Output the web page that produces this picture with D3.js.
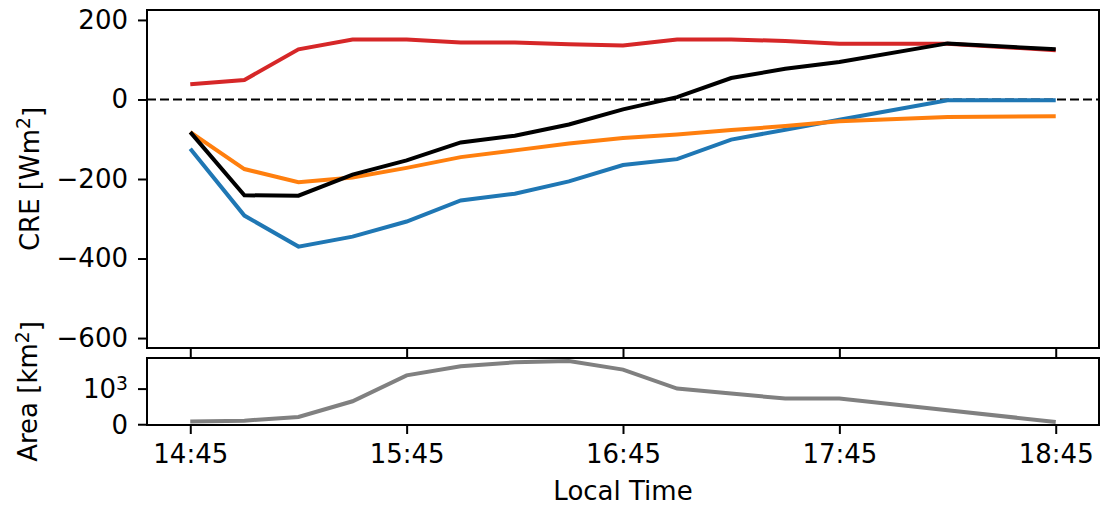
<!DOCTYPE html>
<html>
<head>
<meta charset="utf-8">
<script src="https://cdn.jsdelivr.net/npm/d3@7"></script>
<style>
  body { margin: 0; background: #fff; }
  text { font-family: "DejaVu Sans", sans-serif; fill: #000; }
</style>
</head>
<body>
<script>
// sample times (local), every 15 min with a gap between 17:45 and 18:15
let times = ["14:45", "15:00", "15:15", "15:30", "15:45", "16:00", "16:15", "16:30",
  "16:45", "17:00", "17:15", "17:30", "17:45", "18:15", "18:45"];

// CRE series [W m^2]
let creNet = [-82, -241, -242, -189, -153, -108, -91, -63, -25, 6, 54, 77, 94, 141, 126];
let creSw = [-124, -292, -370, -345, -307, -254, -237, -206, -165, -150, -101, -76, -51, -2, -2];
let creLw = [38, 49, 126, 151, 151, 143, 143, 139, 136, 151, 151, 147, 140, 140, 124];
let creOther = [-82, -175, -208, -196, -172, -145, -128, -111, -97, -88, -77, -67, -55, -44, -42];

// cloud area [km^2]
let area = [75, 100, 205, 644, 1372, 1624, 1737, 1773, 1532, 1000, 860, 720, 720, 392, 64];

let xTickLabels = ["14:45", "15:45", "16:45", "17:45", "18:45"];
let creTicks = [200, 0, -200, -400, -600];
let areaTicks = [0, 1000];

let width = 1100;
let height = 505;
let left = 147;
let right = 1099;
let topPanel = { y0: 10, y1: 348 };
let botPanel = { y0: 358, y1: 425 };

let parse = d3.timeParse("%H:%M");
let dates = times.map(parse);
let xTicks = xTickLabels.map(parse);

let xScale = d3
  .scaleTime()
  .domain([parse("14:33"), parse("18:57")])
  .range([left, right]);

let yScale = d3
  .scaleLinear()
  .domain([-625, 225])
  .range([topPanel.y1, topPanel.y0]);

let aExt = d3.extent(area);
let aPad = (aExt[1] - aExt[0]) * 0.05;
let aScale = d3
  .scaleLinear()
  .domain([aExt[0] - aPad, aExt[1] + aPad])
  .range([botPanel.y1, botPanel.y0]);

let svg = d3
  .select("body")
  .append("svg")
  .attr("width", width)
  .attr("height", height);

let fs = 26;

// top panel
let defs = svg.append("defs");
defs.append("clipPath").attr("id", "clipTop")
  .append("rect")
  .attr("x", left).attr("y", topPanel.y0)
  .attr("width", right - left).attr("height", topPanel.y1 - topPanel.y0);

svg
  .append("line")
  .attr("x1", left)
  .attr("x2", right)
  .attr("y1", yScale(0))
  .attr("y2", yScale(0))
  .attr("stroke", "#000")
  .attr("stroke-width", 2)
  .attr("stroke-dasharray", "9,4");

let line = d3
  .line()
  .x((d, i) => xScale(dates[i]))
  .y((d) => yScale(d));

let series = [
  { values: creLw, color: "#d62728" },
  { values: creSw, color: "#1f77b4" },
  { values: creOther, color: "#ff7f0e" },
  { values: creNet, color: "#000000" },
];

svg
  .append("g")
  .attr("clip-path", "url(#clipTop)")
  .selectAll("path")
  .data(series)
  .enter()
  .append("path")
  .attr("d", (d) => line(d.values))
  .attr("fill", "none")
  .attr("stroke", (d) => d.color)
  .attr("stroke-width", 4)
  .attr("stroke-linejoin", "miter")
  .attr("stroke-linecap", "butt");

// bottom panel
let areaLine = d3
  .line()
  .x((d, i) => xScale(dates[i]))
  .y((d) => aScale(d));

svg
  .append("path")
  .attr("d", areaLine(area))
  .attr("fill", "none")
  .attr("stroke", "#808080")
  .attr("stroke-width", 4);

// frames
[topPanel, botPanel].forEach((p) => {
  svg
    .append("rect")
    .attr("x", left)
    .attr("y", p.y0)
    .attr("width", right - left)
    .attr("height", p.y1 - p.y0)
    .attr("fill", "none")
    .attr("stroke", "#000")
    .attr("stroke-width", 2);
});

// axes
let styleAxis = (g) => {
  g.select(".domain").remove();
  g.selectAll(".tick line").attr("stroke", "#000").attr("stroke-width", 2);
  g.selectAll(".tick text")
    .style("font-family", "DejaVu Sans")
    .style("font-size", fs + "px")
    .attr("fill", "#000");
};

let tickFmt = d3.timeFormat("%H:%M");

svg
  .append("g")
  .attr("transform", `translate(0,${topPanel.y1})`)
  .call(d3.axisBottom(xScale).tickValues(xTicks).tickSize(9).tickFormat(""))
  .call(styleAxis);

svg
  .append("g")
  .attr("transform", `translate(0,${botPanel.y1})`)
  .call(d3.axisBottom(xScale).tickValues(xTicks).tickSize(9).tickPadding(11).tickFormat(tickFmt))
  .call(styleAxis);

svg
  .append("g")
  .attr("transform", `translate(${left},0)`)
  .call(
    d3.axisLeft(yScale)
      .tickValues(creTicks)
      .tickSize(9)
      .tickPadding(10)
      .tickFormat((d) => (d < 0 ? "\u2212" + Math.abs(d) : d))
  )
  .call(styleAxis);

let aAxis = svg
  .append("g")
  .attr("transform", `translate(${left},0)`)
  .call(d3.axisLeft(aScale).tickValues(areaTicks).tickSize(9).tickPadding(10).tickFormat(""))
  .call(styleAxis);

aAxis
  .selectAll(".tick")
  .append("text")
  .attr("x", -19)
  .attr("dy", "0.35em")
  .attr("text-anchor", "end")
  .style("font-size", fs + "px")
  .each(function (d) {
    let t = d3.select(this);
    if (d === 0) {
      t.text("0");
    } else {
      t.append("tspan").text("10");
      t.append("tspan")
        .attr("dy", "-0.45em")
        .style("font-size", fs * 0.72 + "px")
        .text("3");
    }
  });

// axis labels
let yLabel = (x, y, main, unit) => {
  let t = svg
    .append("text")
    .attr("transform", `translate(${x},${y}) rotate(-90)`)
    .attr("text-anchor", "middle")
    .style("font-size", fs + "px");
  t.append("tspan").text(main + " [" + unit);
  t.append("tspan")
    .attr("dy", "-0.45em")
    .style("font-size", fs * 0.72 + "px")
    .text("2");
  t.append("tspan").attr("dy", "0.45em").text("]");
};

yLabel(38.5, (topPanel.y0 + topPanel.y1) / 2, "CRE", "Wm");
yLabel(37, (botPanel.y0 + botPanel.y1) / 2, "Area", "km");

svg
  .append("text")
  .attr("x", (left + right) / 2)
  .attr("y", 500)
  .attr("text-anchor", "middle")
  .style("font-size", fs + "px")
  .text("Local Time");
</script>
</body>
</html>
